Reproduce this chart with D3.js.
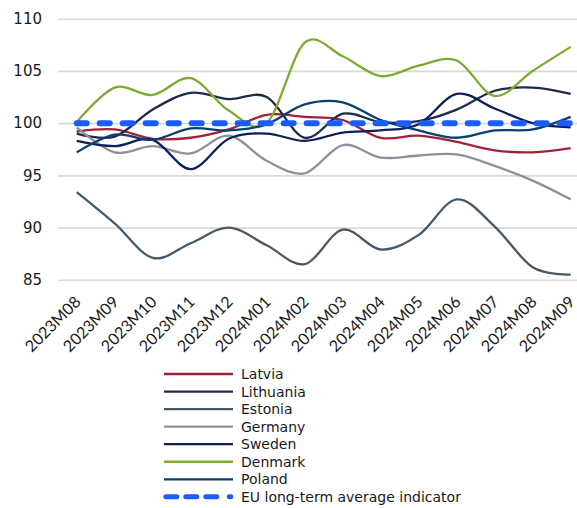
<!DOCTYPE html>
<html>
<head>
<meta charset="utf-8">
<script src="https://cdn.jsdelivr.net/npm/d3@7"></script>
<style>
  html, body { margin: 0; padding: 0; background: #ffffff; }
  svg { display: block; }
</style>
</head>
<body>
<svg id="chart" width="577" height="508"></svg>
<script>
// Monthly categories on the x axis
const months = ["2023M08", "2023M09", "2023M10", "2023M11", "2023M12", "2024M01", "2024M02",
                "2024M03", "2024M04", "2024M05", "2024M06", "2024M07", "2024M08", "2024M09"];

// Index values per country
const latvia    = [99.2, 99.4, 98.5, 98.6, 99.4, 100.8, 100.6, 100.3, 98.6, 98.8, 98.2, 97.4, 97.2, 97.6];
const lithuania = [99.0, 98.7, 101.3, 102.9, 102.3, 102.5, 98.6, 100.9, 100.1, 100.2, 101.3, 103.1, 103.4, 102.8];
const estonia   = [93.4, 90.4, 87.1, 88.5, 90.0, 88.3, 86.5, 89.8, 87.9, 89.3, 92.7, 90.1, 86.2, 85.5];
const germany   = [99.6, 97.2, 97.8, 97.1, 98.8, 96.4, 95.2, 97.9, 96.7, 96.9, 97.0, 95.9, 94.5, 92.7];
const sweden    = [98.3, 97.8, 98.4, 95.6, 98.5, 99.0, 98.3, 99.1, 99.3, 99.9, 102.8, 101.4, 100.0, 99.6];
const denmark   = [100.1, 103.4, 102.7, 104.3, 101.2, 100.0, 107.7, 106.4, 104.5, 105.5, 106.0, 102.6, 105.0, 107.3];
const poland    = [97.2, 98.9, 98.4, 99.5, 99.3, 99.9, 101.8, 102.0, 100.3, 99.3, 98.6, 99.3, 99.4, 100.6];
const euAverage = [100, 100, 100, 100, 100, 100, 100, 100, 100, 100, 100, 100, 100, 100];

// Y axis tick labels
const yTicks = [85, 90, 95, 100, 105, 110];

// Series list built from the arrays above
const series = [
  { name: "Latvia",    values: latvia,    color: "#a5213a" },
  { name: "Lithuania", values: lithuania, color: "#1f2b47" },
  { name: "Estonia",   values: estonia,   color: "#475867" },
  { name: "Germany",   values: germany,   color: "#8c9299" },
  { name: "Sweden",    values: sweden,    color: "#0c1f5b" },
  { name: "Denmark",   values: denmark,   color: "#7dab31" },
  { name: "Poland",    values: poland,    color: "#0b3f70" },
  { name: "EU long-term average indicator", values: euAverage, color: "#1a5cff", dashed: true }
];

const svg = d3.select("#chart");
const W = 577;
const plotLeft = 58;

const x = d3.scalePoint().domain(months).range([76.7, 570.7]);
const y = d3.scaleLinear().domain([85, 110]).range([279.8, 18.7]);

// Horizontal gridlines with value labels
const yAxis = svg.append("g")
  .attr("transform", `translate(${plotLeft},0)`)
  .call(d3.axisLeft(y).tickValues(yTicks).tickSize(-(W - plotLeft)).tickPadding(16).tickFormat(d3.format("d")));
yAxis.select(".domain").remove();
yAxis.selectAll(".tick line").attr("stroke", "#d9d9d9").attr("stroke-width", 1.6);
yAxis.selectAll(".tick text")
  .attr("fill", "#1a1a1a")
  .style("font-family", "'DejaVu Sans', Verdana, sans-serif")
  .style("font-size", "15px");

// Month labels, rotated
const xAxis = svg.append("g")
  .call(d3.axisBottom(x).tickSize(0).tickPadding(0));
xAxis.select(".domain").remove();
xAxis.selectAll(".tick text")
  .attr("text-anchor", "end")
  .attr("x", 0).attr("y", 0).attr("dy", 0)
  .attr("transform", "translate(4.5,303) rotate(-45)")
  .attr("fill", "#1a1a1a")
  .style("font-family", "Lato, 'Open Sans', sans-serif")
  .style("font-size", "16px");

// Smoothed lines
const line = d3.line()
  .x((d, i) => x(months[i]))
  .y(d => y(d))
  .curve(d3.curveCardinal.tension(0));

svg.append("g").selectAll("path")
  .data(series)
  .join("path")
  .attr("d", d => line(d.values))
  .attr("fill", "none")
  .attr("stroke", d => d.color)
  .attr("stroke-width", d => d.dashed ? 6 : 2.3)
  .attr("stroke-linecap", d => d.dashed ? "round" : "butt")
  .attr("stroke-dasharray", d => d.dashed ? "10,13" : null);

// Legend
const legend = svg.append("g").attr("transform", "translate(164,374)");
const rowH = 17.55;
const rows = legend.selectAll("g")
  .data(series)
  .join("g")
  .attr("transform", (d, i) => `translate(0,${i * rowH})`);
rows.append("line")
  .attr("x1", d => d.dashed ? 1.8 : 0).attr("x2", 69)
  .attr("y1", 0).attr("y2", 0)
  .attr("stroke", d => d.color)
  .attr("stroke-width", d => d.dashed ? 5 : 2.3)
  .attr("stroke-linecap", d => d.dashed ? "round" : "butt")
  .attr("stroke-dasharray", d => d.dashed ? "11,9,11,9,11,12.5,1.5,40" : null);
rows.append("text")
  .attr("x", 77)
  .attr("y", 0)
  .attr("dy", "0.36em")
  .attr("fill", "#1a1a1a")
  .style("font-family", "'DejaVu Sans', Verdana, sans-serif")
  .style("font-size", "14px")
  .text(d => d.name);
</script>
</body>
</html>
